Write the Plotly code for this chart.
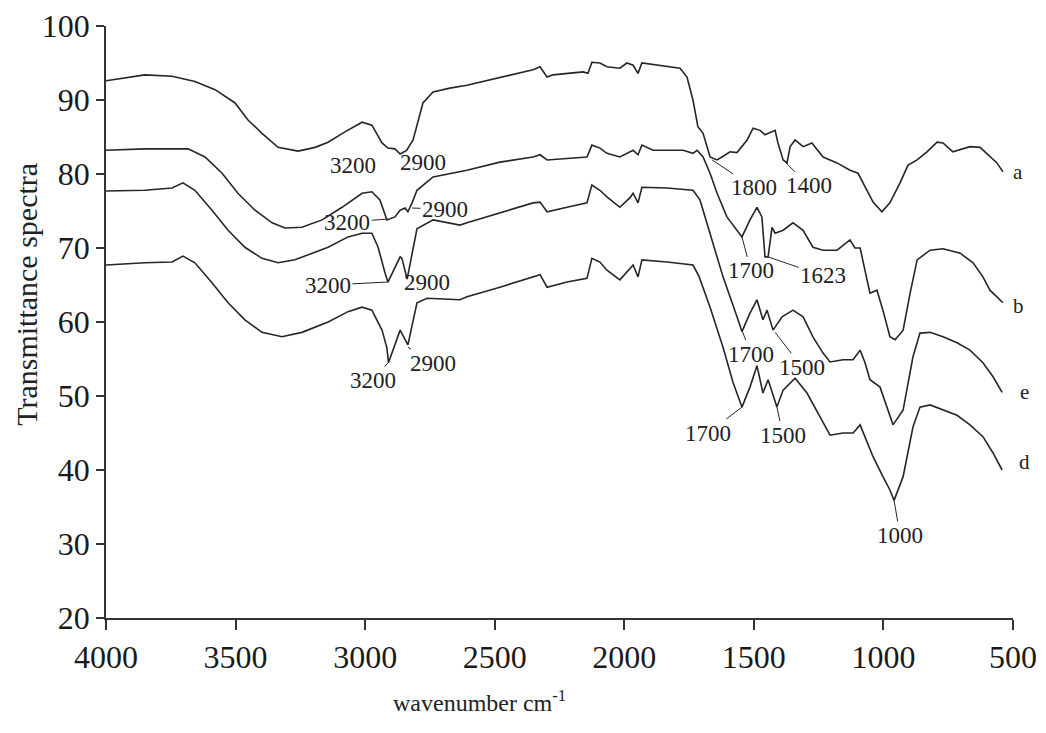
import plotly.graph_objects as go

# ---- data (wavenumber cm-1, transmittance) ----
wn_a = [4000, 3920, 3850, 3745, 3657, 3579, 3502, 3452, 3398, 3336, 3259, 3193, 3143, 3078, 3012,
        2974, 2935, 2912, 2885, 2865, 2840, 2815, 2777, 2738, 2673, 2607, 2480, 2352, 2325, 2298,
        2275, 2159, 2140, 2125, 2094, 2067, 2017, 1990, 1966, 1947, 1932, 1835, 1785, 1758, 1735,
        1716, 1696, 1669, 1642, 1623, 1592, 1565, 1526, 1503, 1476, 1457, 1418, 1407, 1387, 1372,
        1360, 1341, 1310, 1276, 1233, 1179, 1129, 1098, 1063, 1040, 1006, 975, 936, 905, 870, 832,
        793, 770, 732, 666, 627, 589, 562, 539]
tr_a = [92.6, 93.0, 93.4, 93.2, 92.5, 91.4, 89.6, 87.3, 85.5, 83.6, 83.1, 83.6, 84.3, 85.7, 87.0,
        86.6, 84.2, 83.5, 83.4, 82.7, 83.2, 84.6, 89.6, 91.1, 91.6, 92.0, 93.0, 94.1, 94.5, 93.1,
        93.4, 93.8, 93.6, 95.1, 95.0, 94.5, 94.3, 95.0, 94.7, 93.6, 95.0, 94.5, 94.3, 93.1, 90.0,
        86.4, 85.5, 82.3, 81.9, 82.3, 83.0, 82.9, 84.6, 86.2, 85.9, 85.3, 85.9, 84.2, 81.9, 81.5,
        83.7, 84.6, 83.7, 84.2, 82.3, 81.5, 80.5, 80.1, 77.8, 76.2, 74.9, 76.1, 78.8, 81.2, 81.9, 83.0,
        84.3, 84.2, 83.0, 83.7, 83.6, 82.3, 81.5, 80.3]

wn_b = [4000, 3850, 3683, 3618, 3552, 3491, 3425, 3359, 3309, 3244, 3166, 3089, 3012, 2974, 2943,
        2916, 2885, 2865, 2846, 2835, 2819, 2800, 2738, 2607, 2480, 2352, 2325, 2298, 2221, 2144,
        2125, 2094, 2067, 2017, 1966, 1947, 1932, 1889, 1773, 1735, 1719, 1696, 1669, 1642, 1604,
        1565, 1546, 1515, 1488, 1469, 1457, 1445, 1430, 1418, 1387, 1349, 1310, 1272, 1233, 1179,
        1129, 1110, 1090, 1052, 1025, 1002, 975, 955, 924, 897, 870, 820, 770, 704, 654, 616, 589,
        562, 539]
tr_b = [83.2, 83.4, 83.4, 82.3, 80.1, 77.4, 75.1, 73.4, 72.7, 72.8, 73.8, 75.5, 77.4, 77.6, 76.5,
        73.8, 74.2, 75.1, 75.4, 74.9, 76.1, 77.8, 79.6, 80.5, 81.6, 82.3, 82.6, 81.9, 82.1, 82.3,
        83.9, 83.5, 82.8, 82.3, 83.2, 82.6, 83.9, 83.2, 83.2, 82.8, 83.2, 82.3, 80.1, 77.4, 74.2,
        72.4, 71.5, 73.8, 75.5, 74.2, 68.8, 68.8, 72.8, 72.0, 72.4, 73.4, 72.4, 70.1, 69.7, 69.7,
        71.1, 70.0, 70.0, 63.9, 64.3, 61.6, 58.0, 57.6, 58.9, 63.9, 68.4, 69.7, 69.9, 69.3, 68.0,
        66.1, 64.3, 63.4, 62.6]

wn_e = [4000, 3850, 3745, 3703, 3657, 3591, 3529, 3464, 3398, 3336, 3271, 3205, 3143, 3066, 3012,
        2974, 2950, 2923, 2912, 2865, 2858, 2838, 2800, 2738, 2634, 2607, 2480, 2352, 2325, 2298,
        2221, 2144, 2125, 2094, 2067, 2017, 1978, 1966, 1947, 1932, 1835, 1735, 1708, 1669, 1619,
        1565, 1546, 1515, 1488, 1465, 1449, 1426, 1391, 1349, 1310, 1272, 1233, 1206, 1156, 1117,
        1090, 1071, 1052, 1013, 986, 963, 924, 886, 859, 820, 770, 716, 666, 616, 577, 542]
tr_e = [77.7, 77.8, 78.1, 78.8, 77.8, 75.1, 72.4, 70.1, 68.6, 68.0, 68.4, 69.3, 70.1, 71.5, 72.0,
        72.0, 70.1, 66.6, 65.4, 68.8, 68.6, 65.8, 72.6, 73.8, 73.1, 73.4, 74.7, 76.1, 76.2, 74.9,
        75.5, 76.1, 78.5, 77.8, 76.9, 75.5, 76.8, 77.4, 76.1, 78.2, 78.1, 77.8, 76.5, 72.0, 66.1,
        60.7, 58.7, 61.2, 63.0, 60.3, 61.6, 58.9, 60.7, 61.6, 60.7, 58.0, 55.8, 54.6, 54.9, 54.9,
        56.2, 54.5, 52.2, 51.2, 48.5, 46.1, 48.1, 55.3, 58.5, 58.6, 58.0, 57.2, 56.2, 54.5, 52.6, 50.5]

wn_d = [4000, 3850, 3745, 3703, 3657, 3591, 3529, 3464, 3398, 3321, 3244, 3143, 3066, 3012, 2974,
        2935, 2916, 2910, 2865, 2835, 2800, 2761, 2634, 2607, 2480, 2352, 2325, 2298, 2221, 2144,
        2125, 2094, 2067, 2017, 1978, 1966, 1947, 1932, 1835, 1735, 1712, 1669, 1619, 1580, 1546,
        1515, 1488, 1465, 1445, 1411, 1387, 1341, 1295, 1245, 1206, 1156, 1117, 1090, 1071, 1040,
        1002, 975, 959, 924, 886, 859, 820, 770, 716, 666, 616, 577, 542]
tr_d = [67.7, 68.0, 68.1, 68.9, 68.0, 65.3, 62.6, 60.3, 58.6, 58.0, 58.6, 60.0, 61.4, 62.0, 61.6,
        58.9, 56.5, 54.5, 58.9, 56.9, 62.6, 63.2, 63.0, 63.4, 64.7, 66.1, 66.4, 64.7, 65.4, 65.9,
        68.6, 68.1, 67.0, 65.7, 67.3, 67.7, 66.1, 68.4, 68.1, 67.7, 66.2, 62.0, 56.6, 51.8, 48.5,
        51.2, 54.1, 50.4, 52.2, 48.5, 50.8, 52.4, 50.4, 47.2, 44.7, 45.0, 45.0, 46.1, 44.5, 41.8,
        39.1, 37.3, 35.9, 39.1, 45.8, 48.5, 48.8, 48.1, 47.4, 46.1, 44.5, 42.3, 40.0]

series_names = ["a", "b", "e", "d"]
series_label_y = [80.3, 62.2, 50.5, 41.1]
series_label_x = [1.006, 1.006, 1.013, 1.013]   # paper fraction, right of the plot

x_ticks = [4000, 3500, 3000, 2500, 2000, 1500, 1000, 500]
y_ticks = [20, 30, 40, 50, 60, 70, 80, 90, 100]

# peak labels: (text, curve point wn, curve point T, label offset px x, px y, leader)
peak_labels = [
    ("3200", 3047, 81.2, 0, 0, False),
    ("2900", 2777, 81.5, 0, 0, False),
    ("3200", 2919, 73.9, -39, 3, True),
    ("2900", 2819, 75.4, 33, 1, True),
    ("3200", 2912, 65.4, -60, 3, True),
    ("2900", 2761, 65.3, 0, 0, False),
    ("3200", 2912, 54.5, -15, 18, True),
    ("2900", 2835, 56.6, 25, 16, True),
    ("1800", 1661, 81.9, 42, 28, True),
    ("1400", 1376, 81.5, 23, 23, True),
    ("1700", 1546, 71.5, 9, 34, True),
    ("1623", 1445, 68.8, 55, 19, True),
    ("1700", 1546, 58.9, 9, 24, True),
    ("1500", 1418, 58.6, 27, 35, True),
    ("1700", 1546, 48.5, -34, 26, True),
    ("1500", 1411, 48.5, 6, 28, True),
    ("1000", 959, 35.9, 6, 35, True),
]

FONT = "Liberation Serif, Times New Roman, serif"
LINE = "#262626"

fig = go.Figure()
for name, wn, tr in [("a", wn_a, tr_a), ("b", wn_b, tr_b), ("e", wn_e, tr_e), ("d", wn_d, tr_d)]:
    fig.add_trace(go.Scatter(x=wn, y=tr, mode="lines", name=name,
                             line=dict(color=LINE, width=1.6), showlegend=False))

annotations = []
for text, xw, yt, axp, ayp, leader in peak_labels:
    if leader:
        annotations.append(dict(x=xw, y=yt, xref="x", yref="y", text=text, showarrow=True,
                                arrowhead=0, arrowwidth=1, arrowcolor=LINE, ax=axp, ay=ayp,
                                standoff=0, font=dict(family=FONT, size=23, color="#222")))
    else:
        annotations.append(dict(x=xw, y=yt, xref="x", yref="y", text=text, showarrow=False,
                                font=dict(family=FONT, size=23, color="#222")))

for name, lx, ly in zip(series_names, series_label_x, series_label_y):
    annotations.append(dict(x=lx, y=ly, xref="paper", yref="y", text=name, showarrow=False,
                            xanchor="center", yanchor="middle",
                            font=dict(family=FONT, size=21, color="#222")))

annotations.append(dict(x=-0.087, y=0.546, xref="paper", yref="paper", text="Transmittance spectra",
                        textangle=-90, showarrow=False, xanchor="center", yanchor="middle",
                        font=dict(family=FONT, size=30, color="#222")))
annotations.append(dict(x=0.412, y=-0.14, xref="paper", yref="paper",
                        text="wavenumber cm<sup>-1</sup>", showarrow=False,
                        xanchor="center", yanchor="middle",
                        font=dict(family=FONT, size=24, color="#222")))

# page body has an 8 px default margin, so the figure is offset by 8 px
fig.update_layout(
    width=1038, height=725,
    margin=dict(l=98, r=33, t=18, b=115, autoexpand=False),
    paper_bgcolor="white", plot_bgcolor="white",
    font=dict(family=FONT, color="#222"),
    annotations=annotations,
    xaxis=dict(range=[4000, 500], tickvals=x_ticks, ticktext=[str(v) for v in x_ticks],
               automargin=False,
               showline=True, linecolor="#333", linewidth=1.6, ticks="outside", ticklen=10,
               tickwidth=1.6, tickcolor="#333", showgrid=False, zeroline=False,
               tickfont=dict(family=FONT, size=32, color="#1a1a1a")),
    yaxis=dict(range=[20, 100], tickvals=y_ticks, showline=True, linecolor="#333", linewidth=1.6,
               automargin=False,
               ticks="outside", ticklen=8, tickwidth=1.6, tickcolor="#333", showgrid=False,
               zeroline=False, tickfont=dict(family=FONT, size=32, color="#1a1a1a")),
)

fig.write_html("out.html")
